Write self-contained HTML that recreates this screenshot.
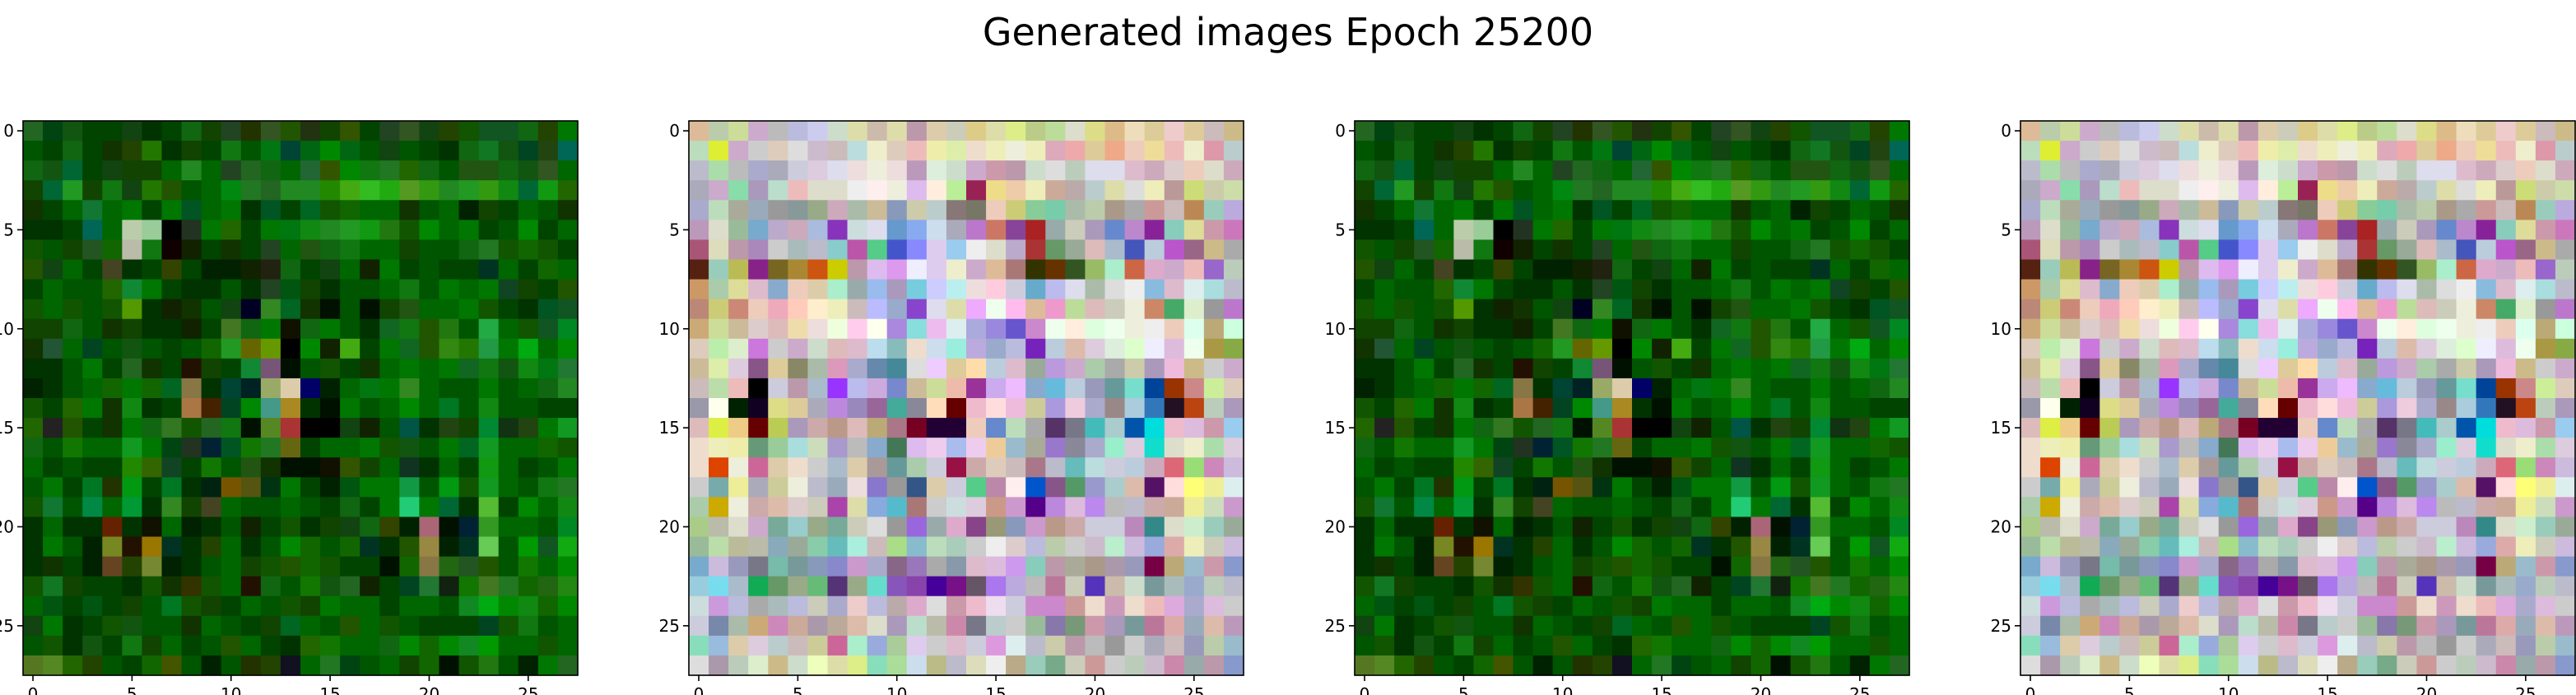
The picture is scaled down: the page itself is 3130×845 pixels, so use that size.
<!DOCTYPE html>
<html><head><meta charset="utf-8"><style>
html,body{margin:0;padding:0;background:#fff;width:3130px;height:845px;overflow:hidden}
svg{display:block}
</style></head><body>
<svg id="fig" width="3130" height="845" xmlns="http://www.w3.org/2000/svg">
<text x="1565" y="55" text-anchor="middle" font-family="DejaVu Sans, Liberation Sans, sans-serif" font-size="46" fill="#000">Generated images Epoch 25200</text>
</svg>
<script>
const greenRows = [
"262,041,151,040,040,141,030,040,161,140,242,230,352,250,231,140,350,040,242,352,141,240,150,152,152,161,240,070",
"050,040,161,040,130,240,270,030,140,040,171,050,071,043,061,080,061,050,141,050,040,030,161,172,151,042,241,065",
"161,151,063,040,141,140,140,060,282,060,242,262,161,060,263,350,080,171,272,260,161,050,251,251,161,151,352,060",
"140,063,292,140,171,141,270,250,050,060,081,272,262,282,282,280,4a1,3b2,2a1,592,391,282,292,391,181,063,191,260",
"130,040,060,173,060,070,040,070,052,060,070,030,052,040,062,150,160,060,060,130,050,060,020,140,040,060,050,130",
"030,030,040,065,060,bca,9c9,000,232,070,260,040,070,071,181,282,292,191,271,150,080,060,070,040,050,080,040,060",
"150,050,140,252,160,bba,171,100,120,040,130,040,242,060,251,161,171,060,060,140,050,050,161,272,150,160,150,040",
"250,141,060,040,442,030,040,340,040,020,020,120,221,161,040,141,060,120,070,040,050,040,040,032,060,040,160,060",
"040,060,050,050,260,183,070,040,030,030,050,030,242,051,140,030,050,050,060,171,050,070,060,070,142,140,040,250",
"150,060,150,050,150,590,030,120,130,050,141,002,382,062,130,010,050,010,140,251,060,060,070,150,040,030,052,152",
"140,140,161,050,130,140,030,030,120,040,472,161,070,110,161,070,050,030,162,171,250,271,050,2a4,060,150,152,082",
"130,253,060,042,050,151,050,040,050,160,292,660,690,000,080,120,4a1,040,070,162,250,381,270,294,070,0a1,060,080",
"030,030,050,070,040,262,130,040,210,140,040,183,757,010,050,150,040,130,060,070,060,070,162,171,151,181,071,273",
"020,030,050,060,160,070,160,062,874,030,043,022,9a6,dca,006,020,060,071,070,382,060,050,050,070,050,060,161,282",
"150,040,260,070,130,181,030,040,a74,420,042,080,498,a82,030,010,070,050,060,080,060,072,050,181,050,050,040,040",
"260,222,250,040,130,070,161,372,150,262,171,010,582,a33,000,000,141,120,050,054,030,241,140,083,131,241,070,192",
"161,050,170,060,060,192,070,041,232,023,052,170,272,661,040,060,060,070,150,151,050,070,062,192,060,060,160,150",
"060,040,050,040,040,280,360,142,040,170,050,251,130,010,010,110,350,140,060,132,030,060,040,191,060,040,050,070",
"050,070,040,072,230,091,040,072,030,021,750,551,031,070,040,020,051,070,070,194,050,091,150,192,060,050,171,272",
"150,173,050,084,060,093,030,382,140,442,060,050,050,060,050,040,161,040,070,2c7,070,063,030,5b3,040,080,060,181",
"030,060,030,030,620,030,110,060,020,030,050,120,040,150,030,140,141,161,340,020,a67,010,023,392,060,060,050,082",
"030,070,050,020,782,210,970,032,030,240,060,030,050,080,160,050,160,032,030,250,984,020,032,6c5,050,090,152,1a1",
"030,130,040,020,642,240,783,020,030,050,060,140,150,250,160,150,040,040,010,160,874,261,252,250,050,170,060,080",
"150,172,140,040,040,030,150,130,330,150,060,210,161,050,170,151,262,120,040,042,273,121,170,472,272,160,261,281",
"060,051,040,051,040,140,050,072,150,140,040,060,050,150,140,070,060,060,040,060,060,050,182,0a1,080,181,160,080",
"141,070,030,040,150,151,050,050,130,060,050,040,140,062,060,050,250,060,150,050,040,040,040,042,150,171,050,060",
"050,150,030,151,040,171,140,060,040,050,250,060,040,030,260,170,060,060,161,080,160,080,182,090,060,060,150,060",
"572,582,260,240,050,040,160,450,050,020,050,230,240,112,060,272,041,050,060,140,160,010,150,271,050,020,070,262"
];
const pastelRows = [
"db9,bca,cd9,cac,bbb,bbd,cce,cdc,dda,cba,dda,b9a,dca,ccb,dc8,dda,de8,bc8,bd9,ddc,dd8,db8,edb,dc9,ecc,dc9,cbb,cb8",
"bdb,de3,cac,ccc,dcb,ddd,cbc,cbb,bdd,eec,dcb,ebb,eea,dea,edc,eeb,eed,eeb,dab,eaa,dc9,ea8,ecb,ed9,ebb,eec,d9a,bcc",
"bbc,ada,bbb,aac,aab,ccd,dcd,dde,edd,eed,edd,b9b,ded,cdc,cac,c9a,b9a,cdc,ddd,bcb,dde,dde,dbc,cab,dcc,ecb,ddc,cab",
"aab,cac,8da,a9b,bdc,ebb,ddc,ddc,eee,fee,eed,dbe,fed,be9,925,ed8,eca,eeb,ca9,baa,bcc,dda,ddd,eeb,b99,cd7,cca,cda",
"aac,bdb,aa9,9ab,999,899,9a8,cab,aba,cb9,89b,cca,bcc,877,776,ecb,cc7,8c9,7ca,aba,bca,a98,aaa,c99,cbb,b85,9cb,bad",
"b9b,ddc,9b9,7ac,bac,cab,abd,83b,cdd,dde,69c,8ae,cde,aab,b7c,c76,849,a22,9aa,ccb,a9b,68c,b8c,829,8cb,dd9,c9a,c7b",
"a57,ddb,b9a,a8b,ccc,abb,bbc,8cc,b5a,5c8,45c,88f,dce,9ce,eee,ddc,bac,a33,696,9a9,dbb,abc,45b,bcd,b5c,968,cb8,aaa",
"521,9cb,bb5,828,762,a83,c51,cc0,b9a,dbe,d9e,eef,dce,eec,cac,db9,a77,330,630,352,9b6,aec,c64,dac,cac,ebb,96c,bcb",
"c96,aca,dd9,dbc,8ac,ecb,dca,aec,9aa,9be,a9b,7cd,ccf,bee,edd,fcd,ccd,6ac,bbe,dde,aba,ddd,eee,8bd,dbc,dee,add,bbc",
"b87,cc7,c87,ecb,eab,fcb,fec,eeb,cbb,bbf,9ac,84c,dde,dda,eaf,efe,fbe,db9,e9c,bd9,dbb,ccb,eed,c86,4a6,dec,999,b7c",
"ca7,cd9,cb9,dcc,dbb,eda,edd,efd,fce,ffe,a8d,8dd,ebe,dee,aad,98d,65c,c8c,efe,fed,dfd,efe,eed,eee,ecb,dfe,ba7,cfd",
"dcb,bea,dec,c7d,ccc,cac,cdc,dbb,dbc,bde,8bb,edc,cde,9ed,bad,9ac,bbd,72b,bcd,dba,dcd,ded,dfc,eef,dbd,efe,a94,8a4",
"cb9,dea,dcd,858,dc9,886,aba,d9b,aac,68a,489,ddd,ecf,dc9,fda,bcd,dbc,9a9,b9d,cac,aca,aaa,cca,a9b,ebd,cb8,ccc,cac",
"cbb,bda,ebb,000,ccd,b9a,abc,93f,bbe,cad,78c,cb9,cd9,eba,939,cae,ebf,8ac,6bd,bcd,99b,699,7dc,049,930,c88,ce9,dcb",
"99a,ffe,020,102,dd8,dc9,aab,b8d,98b,969,4a9,889,fdb,600,ebc,fdd,ebd,cc9,a9d,ecd,aac,988,acd,37b,212,b41,bcb,a9b",
"dbb,de4,ec8,600,bc5,a9b,caa,b98,dbb,ba7,a78,702,203,203,ecb,68c,bdb,aaa,536,778,4bb,acc,05a,0dd,ebc,dbd,c9a,9ce",
"edc,eeb,eea,697,9c9,add,cdb,a9c,bbb,8ac,475,dbe,ece,abe,ece,ec9,9bc,aa9,97c,889,aac,9ec,dcd,1dc,ddc,eec,ada,dcd",
"edc,d40,eed,c69,dca,edc,ccc,abc,dca,a99,699,aca,ccd,914,caa,dcb,cbb,a78,bbc,6bb,bdd,ccd,bcd,cab,d67,9d7,c8b,cbd",
"ccc,7aa,ee9,aab,cc9,eed,bbc,9ab,edd,87c,999,358,dca,ccd,5c8,b8a,fee,05c,858,596,99c,acc,dba,516,fdd,ff7,ee9,dee",
"aca,ca0,eed,caa,dba,dcc,ccb,a4a,dda,8ad,5bc,a77,ccc,cdd,dcd,c98,c9c,508,b8d,dbd,b8e,bbb,bbc,caa,ca9,ee9,cdb,c9c",
"ac8,bba,ddc,cac,7a9,9cc,9a8,7a9,ccb,ddd,999,96d,9aa,dac,848,997,89b,c9c,b98,caa,ccd,ccd,b8b,388,ddc,cec,9cb,9a9",
"9b9,bda,bb9,bba,8ab,9a9,8ca,6bb,aed,cbb,ad8,8bc,bdb,acb,ccc,eee,dcc,bbd,bca,ccc,cbc,bec,cbd,9ad,daa,eeb,ccb,cbd",
"7ac,cbd,99b,778,7ba,799,89b,88c,c9c,aac,868,97b,aaa,89a,dbc,dbd,c9e,8cb,b9a,aa9,a98,a9a,99b,704,ba7,9bc,c9a,89c",
"9cd,7de,abc,1a5,696,9a8,6b7,537,9a8,6dc,85b,84a,409,718,656,a7e,bad,bbb,b79,ccb,53b,cba,cdc,799,abb,9ac,bcb,bbc",
"cdd,c9d,bbd,aaa,abb,bbd,ccb,aac,ecc,bbd,baa,dac,ddd,c9a,ebc,ede,ccd,c8c,c8c,c99,edc,c9b,edc,ebb,dad,aac,dbd,ccc",
"ccd,78a,aba,ca7,c8b,ca9,a9a,ba9,dba,ddc,a9b,bdc,bba,c8a,778,bcc,ccc,9b9,87a,797,c9a,a9b,799,b79,daa,9ab,dba,b9b",
"8db,9bd,dca,dcd,bcc,cbb,cc9,c69,aec,9ad,ac9,dce,ccc,dbc,ccd,d9d,dee,bbc,cca,b9a,bbb,999,ccc,aab,cbb,99b,bca,9bc",
"ddd,a9a,bcb,dec,cb8,cdc,efb,dda,de8,8db,ad9,cde,bb8,bbc,ddb,eee,ba8,9cb,7a8,ccb,c99,ccc,bcb,cbc,c8a,9aa,b9a,89c"
];
const tickValues = [0,5,10,15,20,25];
const panelImages = [greenRows, pastelRows, greenRows, pastelRows];

const NS = "http://www.w3.org/2000/svg";
const fig = document.getElementById('fig');
const panelLeft = [28, 837, 1646, 2455];
const top0 = 147, size = 674, n = 28, cell = size / n;
function mk(tag, attrs){ const e = document.createElementNS(NS, tag); for (const k in attrs) e.setAttribute(k, attrs[k]); return e; }
const sx = (i) => i * cell; // data index -> pixel offset

panelImages.forEach((rows, p) => {
  const g = mk('g', {transform: `translate(${panelLeft[p]},${top0})`});
  
  
  rows.forEach((row, r) => {
    row.split(',').forEach((c, col) => {
      const rect = mk('rect', {x: sx(col).toFixed(2), y: sx(r).toFixed(2), width: (cell + 0.6).toFixed(2), height: (cell + 0.6).toFixed(2), fill: '#' + c});
      
      
      g.appendChild(rect);
    });
  });
  const frame = mk('rect', {x: 0, y: 0, width: size, height: size, fill: 'none', stroke: '#000', 'stroke-width': 1.6});
  
  
  g.appendChild(frame);
  tickValues.forEach(v => {
    const pos = sx(v) + cell / 2;
    const xt = mk('line', {x1: pos, x2: pos, y1: size, y2: size + 7, stroke: '#000', 'stroke-width': 1.6});
    
    
    g.appendChild(xt);
    const xl = mk('text', {x: pos, y: size + 30, 'text-anchor': 'middle', 'font-family': 'DejaVu Sans, Liberation Sans, sans-serif', 'font-size': 20});
    xl.textContent = v;
    
    
    g.appendChild(xl);
    const yt = mk('line', {x1: -7, x2: 0, y1: pos, y2: pos, stroke: '#000', 'stroke-width': 1.6});
    
    
    g.appendChild(yt);
    const yl = mk('text', {x: -11, y: pos + 7, 'text-anchor': 'end', 'font-family': 'DejaVu Sans, Liberation Sans, sans-serif', 'font-size': 20});
    yl.textContent = v;
    
    
    g.appendChild(yl);
  });
  fig.appendChild(g);
});
</script>
</body></html>
